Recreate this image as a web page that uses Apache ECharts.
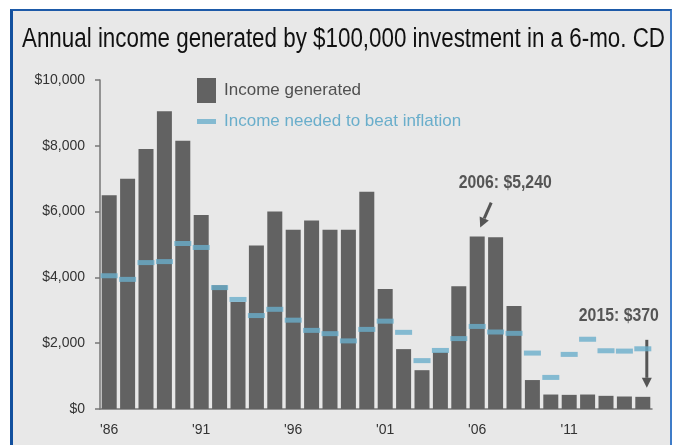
<!DOCTYPE html>
<html>
<head>
<meta charset="utf-8">
<script src="https://cdn.jsdelivr.net/npm/echarts@6/dist/echarts.min.js"></script>
<style>
  html, body { margin: 0; padding: 0; background: #ffffff; }
  #frame { position: absolute; left: 10px; top: 9px; width: 657px; height: 445px;
           background: #e8e8e8; border-left: 3px solid #12509e; border-top: 2px solid #1d5aa8;
           border-right: 2px solid #3f7cc8; }
  #chart { position: absolute; left: 0; top: 0; width: 674px; height: 445px; }
</style>
</head>
<body>
<div id="frame"></div>
<div id="chart"></div>
<script>
const years = ['1986','1987','1988','1989','1990','1991','1992','1993','1994','1995',
               '1996','1997','1998','1999','2000','2001','2002','2003','2004','2005',
               '2006','2007','2008','2009','2010','2011','2012','2013','2014','2015'];
const incomeGenerated = [6500, 7000, 7900, 9050, 8150, 5900, 3760, 3250, 4970, 6000,
                         5450, 5730, 5450, 5450, 6600, 3650, 1820, 1180, 1720, 3730,
                         5240, 5220, 3130, 880, 440, 430, 440, 400, 380, 370];
const incomeNeeded = [4050, 3940, 4450, 4480, 5030, 4910, 3690, 3330, 2840, 3030,
                      2700, 2390, 2290, 2070, 2420, 2670, 2330, 1470, 1780, 2140,
                      2510, 2340, 2300, 1700, 960, 1660, 2120, 1770, 1760, 1830];
const yTicks = [0, 2000, 4000, 6000, 8000, 10000];
const seriesNames = ['Income generated', 'Income needed to beat inflation'];
const titleText = 'Annual income generated by $100,000 investment in a 6-mo. CD';
const notes = [
  { year: '2006', value: 5240, text: '2006: $5,240' },
  { year: '2015', value: 370, text: '2015: $370' }
];

const FONT = "'Liberation Sans Narrow', 'Arial Narrow', 'Liberation Sans', sans-serif";
const chart = echarts.init(document.getElementById('chart'));

function textWidth(t, font) {
  const c = document.createElement('canvas').getContext('2d');
  c.font = font;
  return c.measureText(t).width;
}

const option = {
  backgroundColor: 'transparent',
  animation: false,
  legend: [
    { data: [seriesNames[0]], left: 192, top: 73, itemWidth: 19, itemHeight: 25, itemGap: 0,
      icon: 'rect',
      textStyle: { fontFamily: FONT, fontSize: 17, color: '#505050', padding: [0, 0, 0, 3] } },
    { data: [seriesNames[1]], left: 192, top: 108, itemWidth: 19, itemHeight: 5, itemGap: 0,
      icon: 'rect',
      textStyle: { fontFamily: FONT, fontSize: 17, color: '#6aaecb', padding: [0, 0, 0, 3] } }
  ],
  grid: { left: 100, right: 22, top: 80, bottom: 36 },
  xAxis: {
    type: 'category', data: years, boundaryGap: true,
    axisLine: { lineStyle: { color: '#777', width: 1.5 } },
    axisTick: { interval: 4, length: 6, lineStyle: { color: '#777', width: 1.5 } },
    axisLabel: { interval: 4, margin: 14, fontFamily: FONT, fontSize: 14, color: '#333',
                 formatter: v => "'" + v.slice(2) }
  },
  yAxis: {
    type: 'value', min: yTicks[0], max: yTicks[yTicks.length - 1], interval: 2000,
    splitLine: { show: false },
    axisLine: { show: true, lineStyle: { color: '#777', width: 1.5 } },
    axisTick: { show: true, length: 5, lineStyle: { color: '#777', width: 1.5 } },
    axisLabel: { margin: 15, fontFamily: FONT, fontSize: 14, color: '#333',
                 formatter: v => '$' + v.toLocaleString('en-US') }
  },
  series: [
    { name: seriesNames[0], type: 'bar', data: incomeGenerated, barWidth: 15,
      itemStyle: { color: '#626262' } },
    { name: seriesNames[1], type: 'scatter', data: incomeNeeded, symbol: 'rect',
      symbolSize: [17, 5], itemStyle: { color: '#6aaecb' }, z: 5 }
  ]
};
chart.setOption(option);

function arrow(x1, y1, x2, y2) {
  const dx = x2 - x1, dy = y2 - y1, L = Math.sqrt(dx * dx + dy * dy);
  const ux = dx / L, uy = dy / L, px = -uy, py = ux;
  const hl = 10, hw = 5;
  const bx = x2 - ux * hl, by = y2 - uy * hl;
  return [
    { type: 'line', shape: { x1: x1, y1: y1, x2: bx, y2: by },
      style: { stroke: '#555', lineWidth: 3 } },
    { type: 'polygon', shape: { points: [[x2, y2], [bx + px * hw, by + py * hw], [bx - px * hw, by - py * hw]] },
      style: { fill: '#555' } }
  ];
}
const p0 = chart.convertToPixel({ xAxisIndex: 0, yAxisIndex: 0 }, [notes[0].year, notes[0].value]);
const p1 = chart.convertToPixel({ xAxisIndex: 0, yAxisIndex: 0 }, [notes[1].year, notes[1].value]);

const titleFont = "normal 27px " + FONT;
const titleScale = 643 / textWidth(titleText, titleFont);
const noteFont = "bold 19px " + FONT;
const noteScale0 = 93 / textWidth(notes[0].text, noteFont);
const noteScale1 = 80 / textWidth(notes[1].text, noteFont);
const labelStyle = { fontFamily: FONT, fontSize: 19, fontWeight: 'bold', fill: '#555',
                     textAlign: 'center', textVerticalAlign: 'middle' };
const graphics = [
  { type: 'text', x: 343.5, y: 40, scaleX: titleScale,
    style: { text: titleText, fontFamily: FONT, fontSize: 27, fill: '#111',
             textAlign: 'center', textVerticalAlign: 'middle' } },
  { type: 'text', x: p0[0] + 28, y: p0[1] - 54, scaleX: noteScale0,
    style: Object.assign({ text: notes[0].text }, labelStyle) },
  { type: 'text', x: p1[0] - 24, y: p1[1] - 81, scaleX: noteScale1,
    style: Object.assign({ text: notes[1].text }, labelStyle) }
].concat(arrow(p0[0] + 14, p0[1] - 34, p0[0] + 3, p0[1] - 9))
 .concat(arrow(p1[0] + 4, p1[1] - 57, p1[0] + 4, p1[1] - 9));
chart.setOption({ graphic: graphics });
</script>
</body>
</html>
